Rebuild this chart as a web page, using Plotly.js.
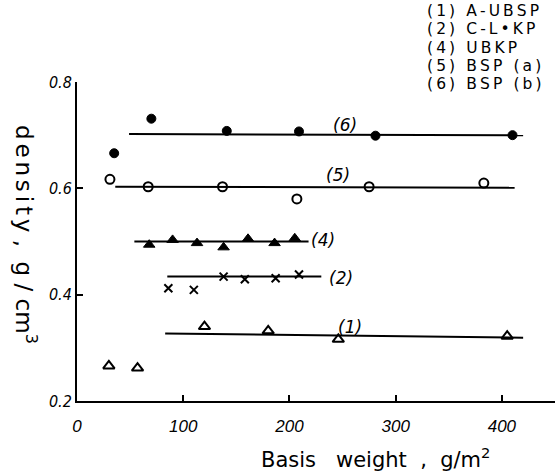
<!DOCTYPE html>
<html>
<head>
<meta charset="utf-8">
<script src="https://cdn.plot.ly/plotly-3.0.1.min.js"></script>
<style>html,body{margin:0;padding:0;background:#fff;}#chart{width:555px;height:472px;}</style>
</head>
<body>
<div id="chart"></div>
<script>
// Series (1) A-UBSP, open triangles
const s1X = [30, 57, 120, 180, 246, 405];
const s1Y = [0.266, 0.262, 0.340, 0.332, 0.316, 0.322];
// Series (2) C-L·KP, crosses
const s2X = [86, 110, 138, 158, 187, 209];
const s2Y = [0.412, 0.409, 0.434, 0.429, 0.431, 0.438];
// Series (4) UBKP, filled triangles
const s4X = [68, 90, 113, 138, 161, 186, 205];
const s4Y = [0.494, 0.503, 0.497, 0.489, 0.505, 0.497, 0.506];
// Series (5) BSP (a), open circles
const s5X = [31, 67, 137, 207, 275, 383];
const s5Y = [0.617, 0.603, 0.603, 0.580, 0.603, 0.610];
// Series (6) BSP (b), filled circles
const s6X = [35, 70, 141, 209, 281, 410];
const s6Y = [0.666, 0.731, 0.708, 0.707, 0.699, 0.700];

// Fitted lines (endpoints)
const fit1X = [83, 420], fit1Y = [0.327, 0.319];
const fit2X = [85, 230], fit2Y = [0.434, 0.434];
const fit4X = [54, 218], fit4Y = [0.500, 0.500];
const fit5X = [36, 412], fit5Y = [0.603, 0.601];
const fit6X = [49, 420], fit6Y = [0.702, 0.700];

// Curve labels
const curveLabels = ['(1)', '(2)', '(4)', '(5)', '(6)'];
const curveLabelX = [257, 249, 232, 246, 252];
const curveLabelY = [0.340, 0.431, 0.503, 0.625, 0.719];

// Key text (top right)
const legendLines = ['(1) A-UBSP', '(2) C-L•KP', '(4) UBKP', '(5) BSP (a)', '(6) BSP (b)'];

const xTicks = [0, 100, 200, 300, 400];
const yTicks = [0.2, 0.4, 0.6, 0.8];
const yTickText = ['0.2', '0.4', '0.6', '0.8'];

const NB = '\u00a0';
// spread letters like the lettering of the original figure
function spread(s, gap) {
  return Array.from(s).map(c => c === ' ' ? NB : c).join(gap);
}

function fitLine(x, y) {
  return {x: x, y: y, mode: 'lines', line: {color: '#000', width: 2}, hoverinfo: 'skip', showlegend: false};
}
function pts(x, y, symbol, size, lw) {
  return {x: x, y: y, mode: 'markers', showlegend: false,
    marker: {symbol: symbol, size: size, color: '#000', line: {color: '#000', width: lw}}};
}

const data = [
  fitLine(fit1X, fit1Y), fitLine(fit2X, fit2Y), fitLine(fit4X, fit4Y),
  fitLine(fit5X, fit5Y), fitLine(fit6X, fit6Y),
  pts(s1X, s1Y, 'triangle-up-open', 10, 2),
  pts(s2X, s2Y, 'x-thin-open', 8, 2),
  pts(s4X, s4Y, 'triangle-up', 10, 1),
  pts(s5X, s5Y, 'circle-open', 9, 2),
  pts(s6X, s6Y, 'circle', 9, 1)
];

const annotations = curveLabels.map((t, i) => ({
  x: curveLabelX[i], y: curveLabelY[i], xref: 'x', yref: 'y', text: t, showarrow: false,
  font: {family: 'DejaVu Sans', size: 17, color: '#000', style: 'italic'}
}));
// key rows, pixel centres 11 .. 84
legendLines.forEach((t, i) => {
  const py = 11.2 + i * 18.2;
  annotations.push({
    xref: 'paper', yref: 'paper', x: (425 - 77) / 478, y: (401 - py) / 319,
    xanchor: 'left', yanchor: 'middle', align: 'left', text: spread(t, '\u2009'), showarrow: false,
    font: {family: 'DejaVu Sans', size: 15.5, color: '#000'}
  });
});
// x axis title
annotations.push({
  xref: 'paper', yref: 'paper', x: (375 - 77) / 478, y: -(458 - 401) / 319, xanchor: 'center', yanchor: 'middle',
  text: 'Basis' + NB + NB + NB + 'weight' + NB + NB + ',' + NB + NB + 'g/m<sup>2</sup>', showarrow: false,
  font: {family: 'DejaVu Sans', size: 21, color: '#000'}
});
// y axis title (reads top to bottom)
annotations.push({
  xref: 'paper', yref: 'paper', x: -(77 - 26) / 478, y: (401 - 234) / 319, xanchor: 'center', yanchor: 'middle', textangle: 90,
  text: spread('density', '\u2006') + NB + ',' + NB + NB + 'g' + NB + '/' + NB + 'cm<sup>3</sup>', showarrow: false,
  font: {family: 'DejaVu Sans', size: 23, color: '#000'}
});

const layout = {
  width: 555, height: 472,
  margin: {l: 77, r: 0, t: 82, b: 71},
  paper_bgcolor: '#fff', plot_bgcolor: '#fff',
  showlegend: false,
  xaxis: {
    range: [0, 450], tickvals: xTicks, ticks: 'inside', ticklen: 6, tickwidth: 2, tickcolor: '#000',
    showline: true, linecolor: '#000', linewidth: 2, showgrid: false, zeroline: false,
    tickfont: {family: 'Liberation Sans, Arial', size: 17, color: '#000', style: 'italic'},
    ticklabelstandoff: 9
  },
  yaxis: {
    range: [0.2, 0.8], tickvals: yTicks, ticktext: yTickText, ticks: 'inside', ticklen: 6, tickwidth: 2, tickcolor: '#000',
    showline: true, linecolor: '#000', linewidth: 2, showgrid: false, zeroline: false,
    tickfont: {family: 'Liberation Sans Narrow, DejaVu Sans Condensed', size: 16, color: '#000', style: 'italic'}
  },
  annotations: annotations
};

Plotly.newPlot('chart', data, layout, {displayModeBar: false, staticPlot: true});
</script>
</body>
</html>
